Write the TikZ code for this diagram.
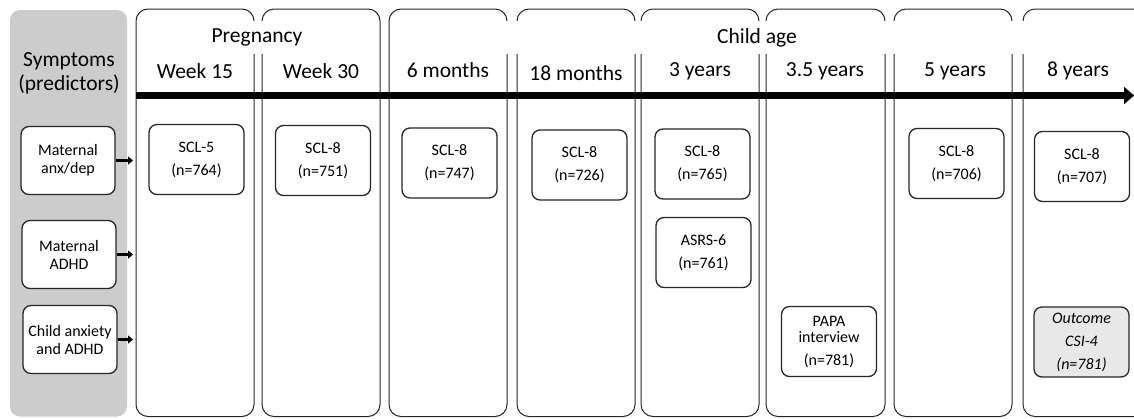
\documentclass[tikz,border=0pt]{standalone}
\usepackage{fontspec}
\setmainfont{Carlito}
\usetikzlibrary{arrows.meta}
\definecolor{panelgray}{HTML}{CCCCCC}
\definecolor{outgray}{HTML}{E8E8E8}
\tikzset{
  colframe/.style={draw=black!85, line width=1pt, rounded corners=12pt},
  cover/.style={fill=white, draw=none},
  hdr/.style={font=\fontsize{21.5}{24}\selectfont, inner sep=0pt, align=center},
  mbox/.style={draw=black!85, line width=1.3pt, rounded corners=8pt, fill=white,
    align=center, inner sep=0pt, minimum width=95pt, minimum height=70pt,
    font=\fontsize{16}{23}\selectfont},
  sbox/.style={mbox, minimum width=94pt, minimum height=68pt},
  bigarrow/.style={line width=7pt, -{Triangle[length=10pt,width=17pt]}},
  smallarrow/.style={line width=3pt, -{Triangle[length=5pt,width=8pt]}},
}
\begin{document}
\begin{tikzpicture}[x=1pt,y=-1pt]
\useasboundingbox (0,0) rectangle (1134,418);
\clip (0,0) rectangle (1134,418);
% left grey panel
\fill[panelgray, rounded corners=10pt] (10,10) rectangle (127,416.5);
% columns
\foreach \l/\r in {136/254,262/380,389/507,517/635,641/759,766/885,894/1012,1023/1150}
  \draw[colframe] (\l,416.5) rectangle (\r,9);
% header covers (inner sides hidden)
\foreach \a/\b in {254/262,507/517,635/641,759/766,885/894,1012/1023}
  \fill[cover] (\a-2,21) rectangle (\b+2,54);
% headers
\node[hdr] (sym) at (69,73) {Symptoms\\(predictors)};
\node[hdr] (preg) at (257,37) {Pregnancy};
\node[hdr] (cage) at (757,38) {Child age};
\node[hdr] (h1) at (195,71) {Week 15};
\node[hdr] (h2) at (321,71) {Week 30};
\node[hdr] (h3) at (448,70) {6 months};
\node[hdr] (h4) at (576,73) {18 months};
\node[hdr] (h5) at (700,71) {3 years};
\node[hdr] (h6) at (825,71) {3.5 years};
\node[hdr] (h7) at (955,71) {5 years};
\node[hdr] (h8) at (1078,71) {8 years};
% timeline arrow
\coordinate (tls) at (136,95.5);
\coordinate (tle) at (1134,95.5);
\draw[bigarrow] (tls) -- (tle);
% predictor boxes
\node[sbox] (ma) at (68,160.5) {Maternal\\[-5pt]anx/dep};
\node[sbox] (mh) at (69,254.5) {Maternal\\[-5pt]ADHD};
\node[sbox] (ca) at (70,339.5) {Child anxiety\\[-5pt]and ADHD};
\coordinate (ta) at (133,160.5);
\coordinate (tb) at (133,254.5);
\coordinate (tc) at (133,339.5);
\draw[smallarrow] (ma.east) -- (ta);
\draw[smallarrow] (mh.east) -- (tb);
\draw[smallarrow] (ca.east) -- (tc);
% measure boxes
\node[mbox] (b1) at (196.5,159.5) {SCL-5\\(n=764)};
\node[mbox] (b2) at (323,160.5) {SCL-8\\(n=751)};
\node[mbox] (b3) at (449.5,163) {SCL-8\\(n=747)};
\node[mbox] (b4) at (579.5,165) {SCL-8\\(n=726)};
\node[mbox] (b5) at (702.5,164) {SCL-8\\(n=765)};
\node[mbox] (b6) at (703.5,252.5) {ASRS-6\\(n=761)};
\node[mbox] (b7) at (829,341.5) {PAPA\\[-7pt]interview\\(n=781)};
\node[mbox] (b8) at (956.5,163.5) {SCL-8\\(n=706)};
\node[mbox] (b9) at (1082,166.5) {SCL-8\\(n=707)};
\node[mbox, fill=outgray, font=\fontsize{16}{23}\selectfont\itshape] (b10) at (1081.5,342) {Outcome\\CSI-4\\(n=781)};
\end{tikzpicture}
\end{document}
